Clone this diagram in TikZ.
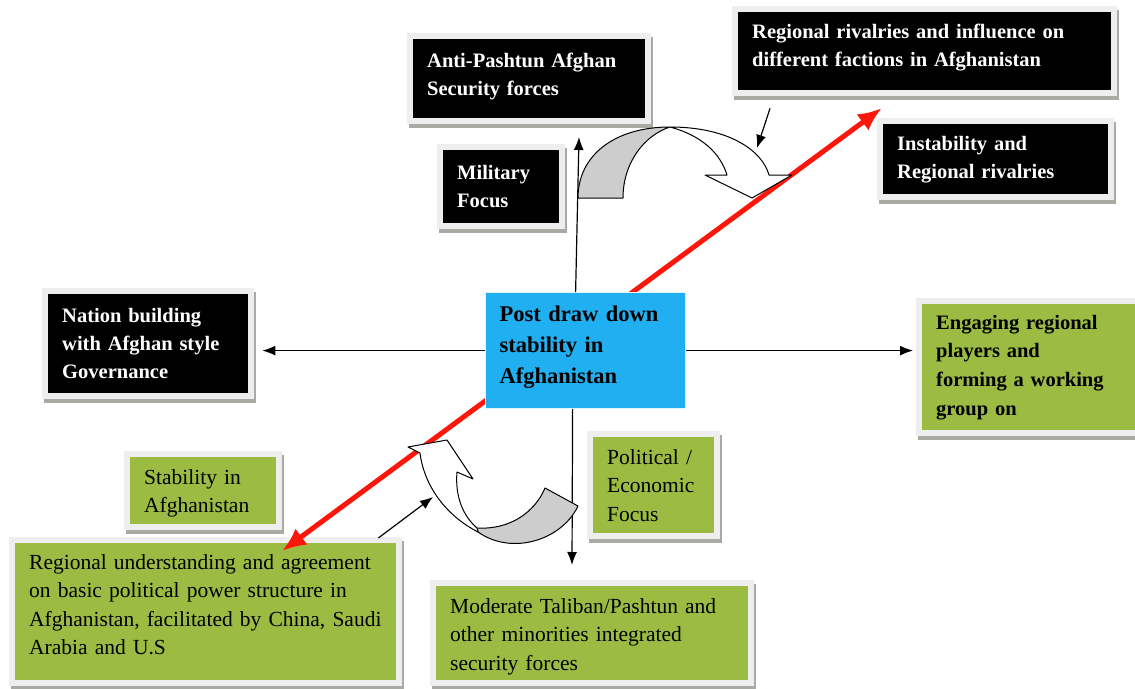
\documentclass[tikz,border=0pt]{standalone}
\usepackage{fontspec}
\setmainfont{Liberation Serif}
\usetikzlibrary{arrows.meta,calc}
\definecolor{boxgreen}{RGB}{155,187,67}
\definecolor{boxblue}{RGB}{32,175,240}
\definecolor{framec}{RGB}{238,238,238}
\definecolor{shadowc}{RGB}{170,170,165}
\definecolor{redc}{RGB}{255,22,10}
\definecolor{ribbongray}{RGB}{205,205,205}
\tikzset{
  framed/.style={rectangle, anchor=north west, inner xsep=14pt, inner ysep=0pt, align=left,
    preaction={draw=shadowc, fill=shadowc, line width=12pt, transform canvas={xshift=2pt,yshift=-4pt}},
    preaction={draw=framec, line width=12pt}},
  blackbox/.style={framed, fill=black, text=white, font=\fontsize{20.5}{28}\selectfont\bfseries},
  greenbox/.style={framed, fill=boxgreen, text=black, font=\fontsize{21.5}{28.5}\selectfont},
  greenbold/.style={framed, fill=boxgreen, text=black, font=\fontsize{20.5}{28.7}\selectfont\bfseries},
  bluebox/.style={rectangle, anchor=north west, inner xsep=13pt, inner ysep=0pt, align=left,
    fill=boxblue, draw=cyan!12, line width=1.2pt, text=black, font=\fontsize{22.5}{31}\selectfont\bfseries},
  conn/.style={draw=black, line width=1.2pt, -{Latex[length=13pt,width=10pt]}},
  redarrow/.style={draw=redc, line width=5pt, {Latex[length=24pt,width=20pt]}-{Latex[length=24pt,width=20pt]}},
  ribbonback/.style={fill=ribbongray, draw=black, line width=1pt, line join=round},
  ribbonfront/.style={fill=white, draw=black, line width=1pt, line join=round}
}
\newcommand\bx[7]{%
  \pgfmathsetmacro\bxw{#4-#2}\pgfmathsetmacro\bxh{#5-#3}\pgfmathsetmacro\bxt{#4-#2-28}%
  \node[#6, minimum width=\bxw pt, minimum height=\bxh pt, text width=\bxt pt] (#1) at (#2,#3) {#7};}
\begin{document}
\begin{tikzpicture}[x=1pt,y=-1pt]
\useasboundingbox (0,0) rectangle (1135,688);
% boxes
\bx{anti}{413}{39}{645}{118}{blackbox}{\mbox{Anti-Pashtun Afghan}\\\mbox{Security forces}\rule[-9pt]{0pt}{9pt}}
\bx{rivals}{738}{12}{1111}{90}{blackbox}{\mbox{Regional rivalries and influence on}\\\mbox{different factions in Afghanistan}\rule[-11pt]{0pt}{11pt}}
\bx{instab}{883}{124}{1108}{194}{blackbox}{\mbox{Instability and}\\\mbox{Regional rivalries}}
\bx{military}{443}{150}{559}{223}{blackbox}{\mbox{Military}\\\mbox{Focus}}
\bx{nation}{48}{294}{248}{393}{blackbox}{\mbox{Nation building}\\\mbox{with Afghan style}\\\mbox{Governance}}
\bx{engage}{922}{304}{1150}{430}{greenbold}{\mbox{Engaging regional}\\\mbox{players and}\\\mbox{forming a working}\\\mbox{group on}}
\bx{stab}{130}{457}{276}{524}{greenbox}{\rule{0pt}{20pt}\mbox{Stability in}\\\mbox{Afghanistan}}
\bx{regund}{15}{543}{396}{680}{greenbox}{\mbox{Regional understanding and agreement}\\\mbox{on basic political power structure in}\\\mbox{Afghanistan, facilitated by China, Saudi}\\\mbox{Arabia and U.S}\rule[-14pt]{0pt}{14pt}}
\bx{polit}{593}{437}{714}{533}{greenbox}{\mbox{Political /}\\\mbox{Economic}\\\mbox{Focus}}
\bx{moder}{436}{586}{748}{680}{greenbox}{\rule{0pt}{22pt}\mbox{Moderate Taliban/Pashtun and}\\\mbox{other minorities integrated}\\\mbox{security forces}}
% red double arrow (over the outer boxes, behind the centre box)
\coordinate (redA) at (282,551);
\coordinate (redB) at (882,108);
\draw[redarrow] (redA) -- (redB);
\bx{center}{485}{292}{685}{408}{bluebox}{\mbox{Post draw down}\\\mbox{stability in}\\\mbox{Afghanistan}\rule[-11pt]{0pt}{11pt}}
% straight connectors
\coordinate (uptip) at (579,137);
\coordinate (downtip) at (572,565);
\draw[conn] ([xshift=-10pt]center.north) -- (uptip);
\draw[conn] ([xshift=-13pt]center.south) -- (downtip);
\draw[conn, shorten >=14pt] (center.west) -- (center.west -| nation.east);
\draw[conn, shorten >=9pt] (center.east) -- (center.east -| engage.west);
% curved ribbon arrows
\draw[ribbonback] (578,198) .. controls (578,155) and (615,127) .. (670,127)
   .. controls (645,135) and (623,162) .. (623,198) -- cycle;
\draw[ribbonfront] (670,127) .. controls (728,127) and (762,150) .. (769,175) -- (792,175)
   -- (752,198) -- (705,175) -- (727,175) .. controls (720,152) and (700,135) .. (670,127) -- cycle;
\draw[ribbonback] (545,488) -- (578,506) .. controls (562,540) and (512,556) .. (478,532)
   -- (477,528) .. controls (510,530) and (535,512) .. (545,488) -- cycle;
\draw[ribbonfront] (478,532) .. controls (445,515) and (424,485) .. (420,453) -- (408,447)
   -- (447,440) -- (473,479) -- (457,472) .. controls (455,495) and (462,515) .. (477,528) -- cycle;
% small pointer arrows
\coordinate (sAtip) at (757,148);
\coordinate (sBtip) at (433,497);
\draw[conn] ($(rivals.south west)+(32,18)$) -- (sAtip);
\draw[conn] ($(regund.north east)+(-18,-5)$) -- (sBtip);
\end{tikzpicture}
\end{document}
